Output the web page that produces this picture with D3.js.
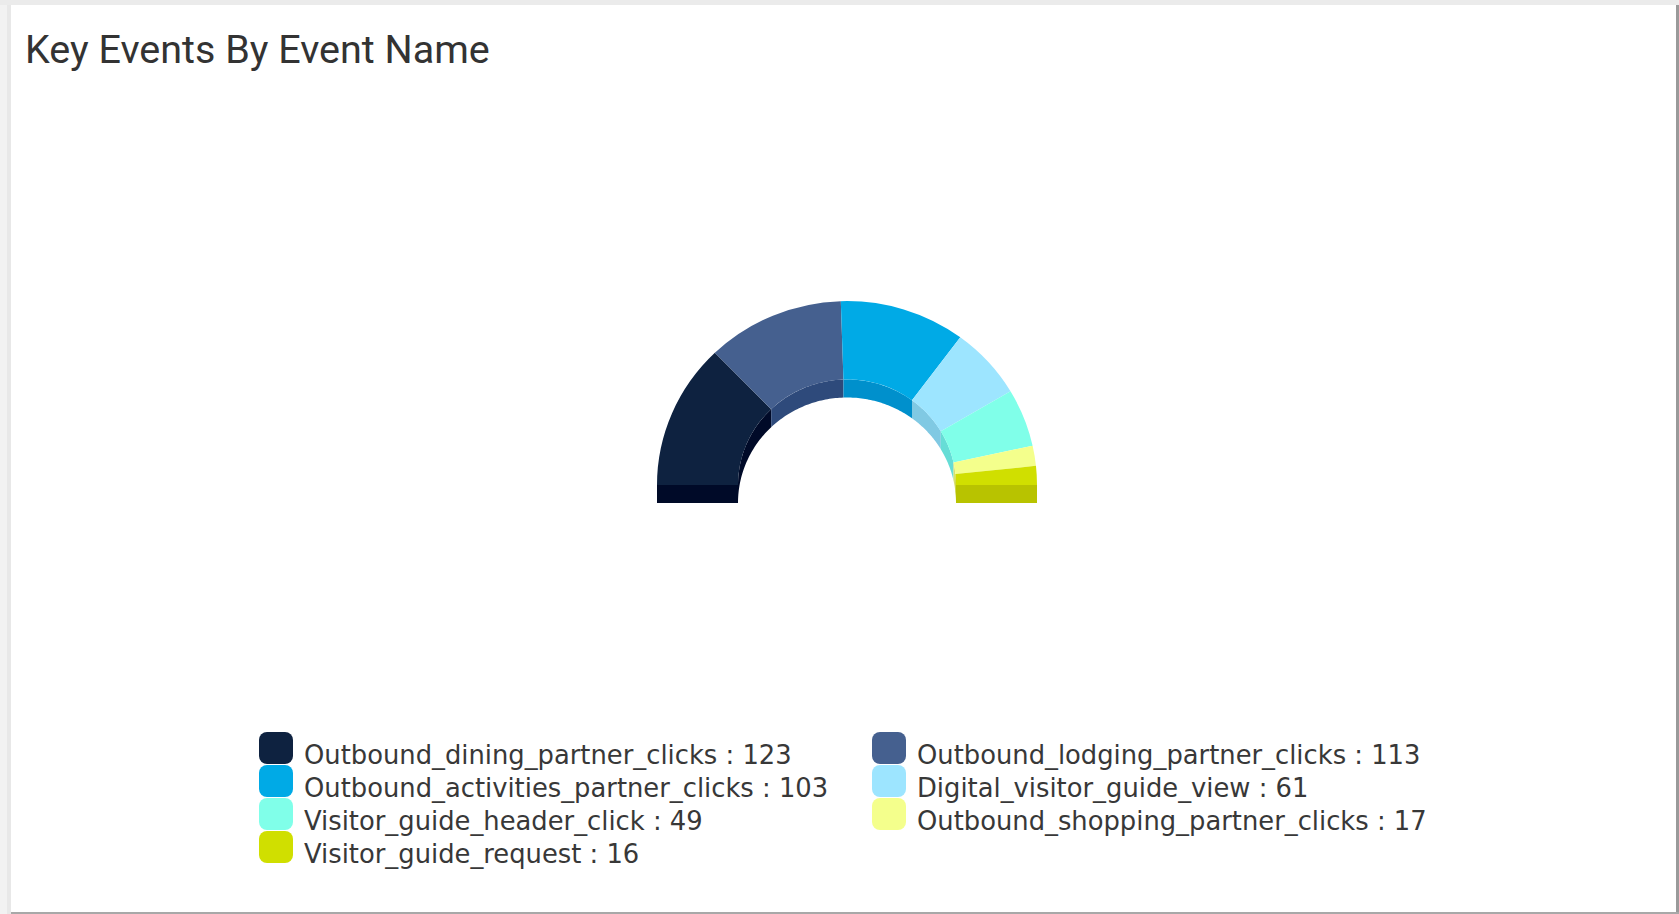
<!DOCTYPE html>
<html>
<head>
<meta charset="utf-8">
<script src="https://cdn.jsdelivr.net/npm/d3@7"></script>
<style>
html,body{margin:0;padding:0;background:#f2f2f2;overflow:hidden;}
svg{display:block;}
</style>
</head>
<body>
<svg id="chart" width="1679" height="914"></svg>
<script>
const title = "Key Events By Event Name";
const categories = ["Outbound_dining_partner_clicks","Outbound_lodging_partner_clicks","Outbound_activities_partner_clicks","Digital_visitor_guide_view","Visitor_guide_header_click","Outbound_shopping_partner_clicks","Visitor_guide_request"];
const values = [123,113,103,61,49,17,16];
const topColors = ["#0e2240","#45608f","#00aae6","#9de5ff","#80ffe9","#f4ff8c","#d0df00"];
const sideColors = ["#000a28","#2e4a7b","#0090cc","#80c9e3","#66ddd6","#d8e070","#b8c300"];

const svg = d3.select("#chart");
const W = 1679, H = 914;
// page + card
svg.append("rect").attr("x",0).attr("y",0).attr("width",W).attr("height",H).attr("fill","#f2f2f2");
svg.append("rect").attr("x",7).attr("y",0).attr("width",4).attr("height",H).attr("fill","#e8e8e8");
svg.append("rect").attr("x",0).attr("y",0).attr("width",W).attr("height",5).attr("fill","#ebebeb");
svg.append("rect").attr("x",1676).attr("y",5).attr("width",3).attr("height",H-5).attr("fill","#9a9a9a");
svg.append("rect").attr("x",11).attr("y",912).attr("width",W-11).attr("height",2).attr("fill","#a8a8a8");
svg.append("rect").attr("x",11).attr("y",5).attr("width",1665).attr("height",907).attr("fill","#ffffff");

svg.append("text").attr("x",25).attr("y",63)
  .attr("font-family","Roboto").attr("font-size",39.5).attr("fill","#333333")
  .text(title);

// 3D half donut
const cx = 847, cy = 485, rOut = 190, rIn = 109, k = 0.968, depth = 18;
const pie = d3.pie().sort(null).startAngle(-Math.PI/2).endAngle(Math.PI/2);
const arcs = pie(values);
const arc = d3.arc().innerRadius(rIn).outerRadius(rOut);

const gWall = svg.append("g").attr("transform",`translate(${cx},${cy})`);
function wallPath(a0, a1){
  const n = 40, p = d3.path();
  for(let i=0;i<=n;i++){
    const a = a0 + (a1-a0)*i/n;
    const x = rIn*Math.sin(a), y = -rIn*k*Math.cos(a);
    if(i===0) p.moveTo(x,y); else p.lineTo(x,y);
  }
  for(let i=n;i>=0;i--){
    const a = a0 + (a1-a0)*i/n;
    p.lineTo(rIn*Math.sin(a), -rIn*k*Math.cos(a)+depth);
  }
  p.closePath();
  return p.toString();
}
gWall.selectAll("path").data(arcs).join("path")
  .attr("d", d => wallPath(d.startAngle, d.endAngle))
  .attr("fill", (d,i) => sideColors[i]);

// end caps
gWall.append("rect").attr("x",-rOut).attr("y",0).attr("width",rOut-rIn).attr("height",depth).attr("fill",sideColors[0]);
gWall.append("rect").attr("x",rIn).attr("y",0).attr("width",rOut-rIn).attr("height",depth).attr("fill",sideColors[sideColors.length-1]);

const gTop = svg.append("g").attr("transform",`translate(${cx},${cy}) scale(1,${k})`);
gTop.selectAll("path").data(arcs).join("path")
  .attr("d", arc)
  .attr("fill", (d,i) => topColors[i]);

// legend
const legX = [259, 872], textOff = 45, row0 = 764, rowH = 33;
const leg = svg.append("g");
categories.forEach((c,i) => {
  const col = i % 2, row = Math.floor(i/2);
  const x = legX[col], y = row0 + row*rowH;
  leg.append("rect").attr("x",x).attr("y",y-32).attr("width",34).attr("height",32)
    .attr("rx",8).attr("fill",topColors[i]);
  leg.append("text").attr("x",x+textOff).attr("y",y)
    .attr("font-family","DejaVu Sans").attr("font-size",25.8).attr("fill","#383838")
    .text(`${c} : ${values[i]}`);
});
</script>
</body>
</html>
